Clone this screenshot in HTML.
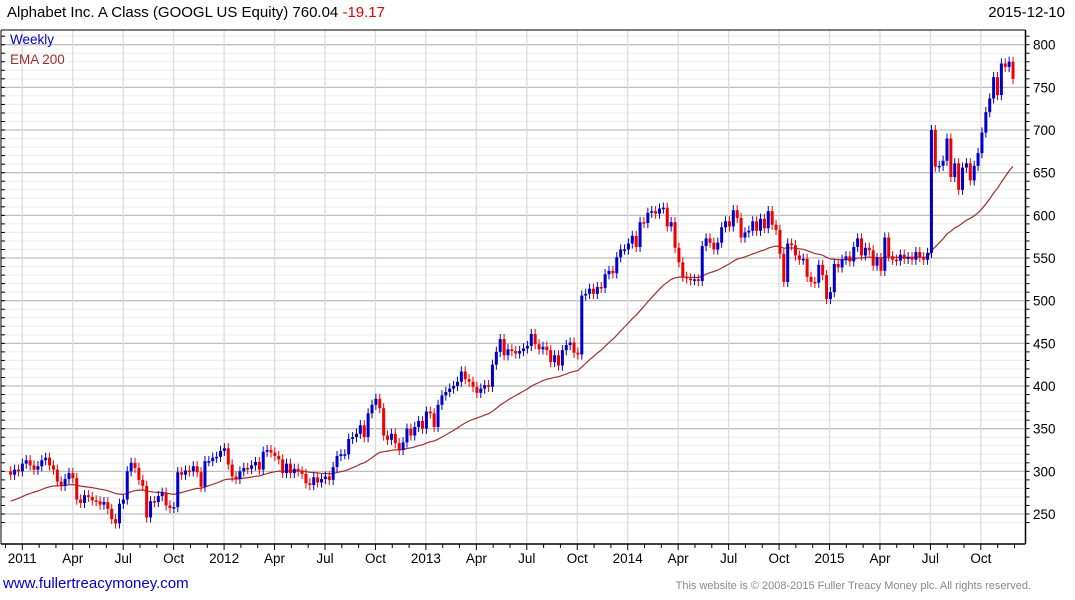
<!DOCTYPE html>
<html><head><meta charset="utf-8">
<style>
body{margin:0;background:#fff;font-family:"Liberation Sans",sans-serif;}
#wrap{position:relative;width:1075px;height:600px;overflow:hidden;}
svg text{font-family:"Liberation Sans",sans-serif;}
</style></head>
<body>
<div id="wrap">
<svg id="chart" width="1075" height="600"></svg>
</div>
<script>
const closes = [
296,302,300,309,313,307,302,306,313,316,
307,302,288,283,291,298,292,267,263,272,
270,266,265,261,264,256,244,239,262,267,
300,310,304,290,283,246,265,264,271,275,
260,257,258,299,296,301,300,306,299,282,
312,312,316,317,324,327,308,294,291,300,
304,303,307,311,302,323,325,322,318,314,
298,309,298,303,300,297,286,284,293,287,
291,294,290,
305,318,320,320,338,340,344,354,340,368,
378,385,374,342,337,344,333,325,334,350,
342,352,359,350,370,368,352,378,389,393,
397,400,405,417,408,405,399,392,397,401,
399,425,440,455,436,443,441,438,441,444,
447,461,449,443,446,442,428,436,424,442,
448,451,439,437,
506,508,514,508,516,515,531,535,532,551,
560,560,567,576,563,592,591,603,605,602,608,
609,587,592,562,545,528,526,524,525,523,
564,573,568,560,568,586,593,587,606,597,
574,580,582,593,582,596,585,605,589,583,
555,522,567,565,553,
548,549,528,522,521,542,530,
502,510,543,539,548,552,546,563,573,553,
562,559,541,550,535,574,552,548,547,554,
549,551,548,557,551,548,556,700,657,658,
664,690,645,661,630,656,661,641,658,673,
697,721,737,762,741,778,774,780,760
];
const firstOpen = 300;
const emaStart = 265;
const emaPeriod = 40;
const yTicks = [250,300,350,400,450,500,550,600,650,700,750,800];
const xLabels = ["2011","Apr","Jul","Oct","2012","Apr","Jul","Oct","2013","Apr","Jul","Oct","2014","Apr","Jul","Oct","2015","Apr","Jul","Oct"];

const NS="http://www.w3.org/2000/svg";
const svg=document.getElementById('chart');
function mk(tag,attrs,parent){const e=document.createElementNS(NS,tag);for(const k in attrs)e.setAttribute(k,attrs[k]);(parent||svg).appendChild(e);return e;}
const L=1,R=1025.5,T=30,B=544;
function y(v){return 44.7+(800-v)*0.8533;}
function xi(i){return 10.7+3.885*i;}
function xq(q){return 22.3+50.45*q;}

const grid=mk('g',{});


for(let v=240;v<=810;v+=10){const yy=y(v);if(yy<T||yy>B)continue;
 const major=v%50===0;
 mk('line',{x1:L,x2:R,y1:yy,y2:yy,stroke:major?'#bdbdbd':'#ececec','stroke-width':major?1.3:1},grid);
 mk('line',{x1:R,x2:R+4,y1:yy,y2:yy,stroke:'#000','stroke-width':1},grid);
 mk('line',{x1:L,x2:L+4,y1:yy,y2:yy,stroke:'#000','stroke-width':1},grid);
}
for(let q=0;q<xLabels.length;q++){const xx=xq(q);
 mk('line',{x1:xx,x2:xx,y1:T,y2:B,stroke:'#dcdcdc','stroke-width':1.3},grid);}
mk('line',{x1:L,x2:R,y1:T,y2:T,stroke:'#000'});
mk('line',{x1:L,x2:R,y1:B,y2:B,stroke:'#000','stroke-width':1.5});
mk('line',{x1:L,x2:L,y1:T,y2:B,stroke:'#000'});
mk('line',{x1:R,x2:R,y1:T,y2:B,stroke:'#000','stroke-width':1.5});
yTicks.forEach(v=>{const t=mk('text',{x:1033,y:y(v)+5,'font-size':13.5,fill:'#000'});
 
 
 t.textContent=v;});
for(let m=-1;m<62;m++){const xx=xq(0)+m*50.45/3;if(xx<L||xx>R)continue;
 mk('line',{x1:xx,x2:xx,y1:B,y2:B+(m%3===0?6:4),stroke:'#000'});}
xLabels.forEach((s,q)=>{const t=mk('text',{x:xq(q),y:563,'font-size':13.5,'text-anchor':'middle',fill:'#000'});
 
 
 t.textContent=s;});
let e=emaStart;const a=2/(emaPeriod+1);let pts=[];
closes.forEach((c,i)=>{if(i>0)e=e+a*(c-e);pts.push(xi(i).toFixed(1)+','+y(e).toFixed(1));});
const ema=mk('polyline',{points:pts.join(' '),fill:'none',stroke:'#a03030','stroke-width':1.2});


const cg=mk('g',{});


closes.forEach((c,i)=>{
 const o=i===0?firstOpen:closes[i-1];
 const up=c>=o;const col=up?'#0000cc':'#ee0000';
 const hi=Math.max(o,c)+6,lo=Math.min(o,c)-6;
 const xx=xi(i);
 mk('line',{x1:xx,x2:xx,y1:y(hi),y2:y(lo),stroke:col,'stroke-width':1},cg);
 const top=y(Math.max(o,c)),bot=y(Math.min(o,c));
 const r=mk('rect',{x:xx-1.5,y:top,width:3,height:Math.max(1.5,bot-top),fill:col},cg);
 
 
});
</script>
<div style="position:absolute;left:7px;top:4px;font-size:15px;color:#000;">Alphabet Inc. A Class (GOOGL US Equity) 760.04 <span style="color:#e00000">-19.17</span></div>
<div style="position:absolute;right:10px;top:4px;font-size:15px;color:#000;">2015-12-10</div>
<div style="position:absolute;left:10px;top:32px;font-size:13.5px;color:#0000cc;">Weekly</div>
<div style="position:absolute;left:10px;top:52px;font-size:13.5px;color:#a03030;">EMA 200</div>
<div style="position:absolute;left:3px;top:575px;font-size:15px;color:#0000cc;">www.fullertreacymoney.com</div>
<div style="position:absolute;right:44px;top:580px;font-size:11px;color:#888;">This website is © 2008-2015 Fuller Treacy Money plc. All rights reserved.</div>
</body></html>
